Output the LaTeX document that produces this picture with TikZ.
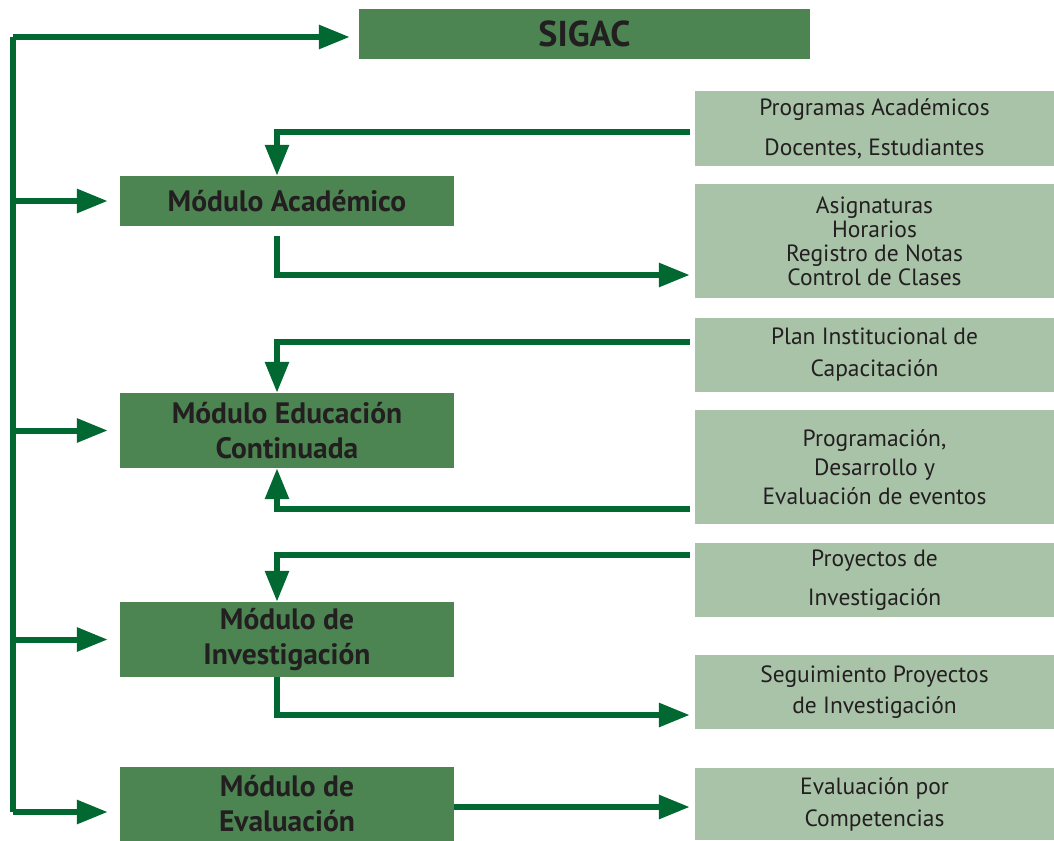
\documentclass[tikz,border=0pt]{standalone}
\usepackage{fontspec}
\setmainfont{PT Sans}
\usetikzlibrary{arrows.meta}
\definecolor{dkgreen}{HTML}{006830}
\definecolor{modfill}{HTML}{4C8552}
\definecolor{ltfill}{HTML}{A8C3A8}
\definecolor{txt}{HTML}{231F20}
\tikzset{
  mod/.style={fill=modfill, text=txt, inner sep=0pt, minimum width=334pt, align=center, font=\fontsize{29.5}{35}\selectfont\bfseries},
  sub/.style={fill=ltfill, text=txt, inner sep=0pt, minimum width=359pt, align=center, font=\fontsize{23.5}{24}\selectfont},
  conn/.style={draw=dkgreen, line width=6pt, line join=miter},
  arr/.style={conn, -{Triangle[length=31pt,width=23pt]}},
}
\begin{document}
\begin{tikzpicture}[x=1pt,y=-1pt]
\useasboundingbox (0,0) rectangle (1054,840);
% main boxes
\node[mod, minimum width=451pt, minimum height=50pt, font=\fontsize{36}{40}\selectfont\bfseries] (sigac) at (584.5,34) {SIGAC};
\node[mod, minimum height=50pt] (acad) at (287,201) {Módulo Académico};
\node[mod, minimum height=75pt] (edu) at (287,430.5) {Módulo Educación\\Continuada};
\node[mod, minimum height=75pt] (inv) at (287,639.5) {Módulo de\\Investigación};
\node[mod, minimum height=74pt] (eval) at (287,804) {Módulo de\\Evaluación};
% sub boxes
\node[sub, minimum height=75pt, font=\fontsize{23.5}{40}\selectfont] (r1) at (874.5,128.5) {Programas Académicos\\Docentes, Estudiantes};
\node[sub, minimum height=114pt] (r2) at (874.5,241) {Asignaturas\\Horarios\\Registro de Notas\\Control de Clases};
\node[sub, minimum height=74pt, font=\fontsize{23.5}{32}\selectfont] (r3) at (874.5,355) {Plan Institucional de\\Capacitación};
\node[sub, minimum height=114pt, font=\fontsize{23.5}{29}\selectfont] (r4) at (874.5,467) {Programación,\\Desarrollo y\\Evaluación de eventos};
\node[sub, minimum height=74pt, font=\fontsize{23.5}{39}\selectfont] (r5) at (874.5,580) {Proyectos de\\Investigación};
\node[sub, minimum height=74pt, font=\fontsize{23.5}{31}\selectfont] (r6) at (874.5,692) {Seguimiento Proyectos\\de Investigación};
\node[sub, minimum height=72pt, font=\fontsize{23.5}{32}\selectfont] (r7) at (874.5,804) {Evaluación por\\Competencias};
% left bus
\coordinate (bustop) at (13,37);
\coordinate (busbot) at (13,812);
\draw[conn] (bustop) -- (busbot);
\draw[arr, shorten >=9pt] (bustop) -- (bustop -| sigac.west);
\draw[arr, shorten >=12pt] (acad.west -| bustop) -- (acad.west);
\draw[arr, shorten >=12pt] (edu.west -| bustop) -- (edu.west);
\draw[arr, shorten >=12pt] (inv.west -| bustop) -- (inv.west);
\draw[arr, shorten >=12pt] (busbot) -- (busbot -| eval.west);
% right connectors
\draw[arr] ([xshift=-5pt,yshift=-3.5pt]r1.west) -| ([xshift=-10pt]acad.north);
\draw[arr, shorten >=5pt] ([xshift=-10pt,yshift=-10pt]acad.south) |- ([yshift=-34pt]r2.west);
\draw[arr] ([xshift=-5pt,yshift=13pt]r3.west) -| ([xshift=-10pt]edu.north);
\draw[arr] ([xshift=-5pt,yshift=-42pt]r4.west) -| ([xshift=-10pt]edu.south);
\draw[arr] ([xshift=-5pt,yshift=25pt]r5.west) -| ([xshift=-10pt]inv.north);
\draw[arr, shorten >=5pt] ([xshift=-10pt]inv.south) |- ([yshift=-23pt]r6.west);
\draw[arr, shorten >=5pt] ([yshift=-3pt]eval.east) -- ([yshift=-3pt]r7.west);
\end{tikzpicture}
\end{document}
